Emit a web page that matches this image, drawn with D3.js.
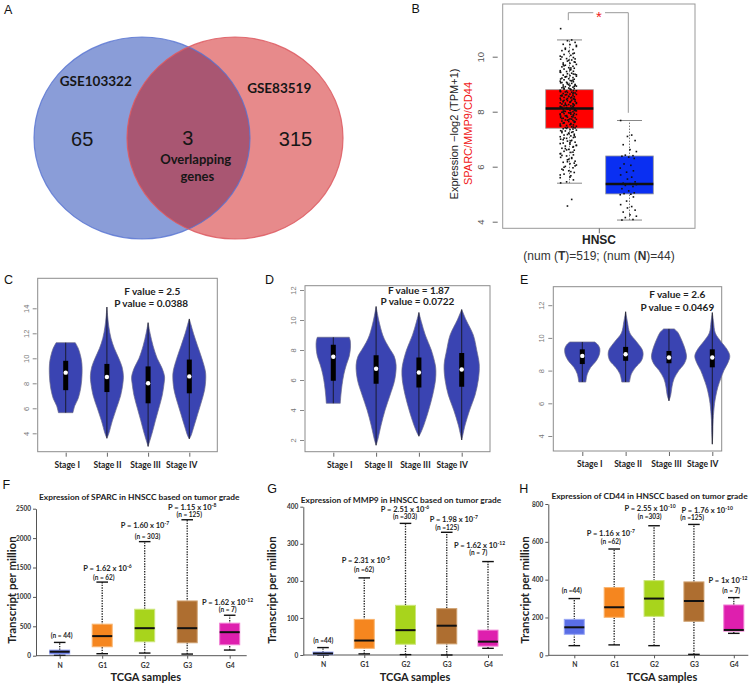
<!DOCTYPE html>
<html><head><meta charset="utf-8">
<script src="https://cdnjs.cloudflare.com/ajax/libs/d3/7.8.5/d3.min.js"></script>
<style>body{margin:0;background:#fff}svg{display:block}</style>
</head><body>
<svg id="c" width="755" height="687"></svg>
<script>
// ---------------- DATA ----------------
// A: Venn
const vennSets = ["GSE103322", "GSE83519"];
const vennCounts = [65, 3, 315];
const vennOverlapLabel = ["Overlapping", "genes"];

// B: HNSC boxplot (log2 TPM+1)
const bGroups = ["Tumor", "Normal"];
const bStats = [[5.4, 7.4, 8.12, 8.8, 10.61], [4.06, 5.01, 5.37, 6.39, 7.68]];
const bTicks = [4, 6, 8, 10];
const tumorExpr = [11.02,10.61,10.58,10.52,10.45,10.44,10.37,10.31,10.26,10.22,10.19,10.13,10.08,10.05,10.02,9.97,9.93,9.91,9.88,9.84,9.8,9.77,9.76,9.72,9.69,9.65,9.63,9.6,9.58,9.55,9.53,9.49,9.47,9.46,9.43,9.4,9.38,9.36,9.33,9.31,9.29,9.27,9.24,9.22,9.2,9.18,9.16,9.13,9.11,9.09,9.07,9.05,9.03,9.01,8.99,8.97,8.95,8.93,8.91,8.89,8.87,8.86,8.84,8.82,8.8,8.78,8.77,8.75,8.73,8.71,8.7,8.68,8.66,8.64,8.63,8.61,8.59,8.57,8.56,8.54,8.52,8.5,8.49,8.47,8.45,8.43,8.42,8.4,8.38,8.36,8.35,8.33,8.31,8.29,8.28,8.26,8.24,8.22,8.21,8.19,8.17,8.15,8.14,8.12,8.1,8.08,8.07,8.05,8.03,8.01,8.0,7.98,7.96,7.94,7.93,7.91,7.89,7.87,7.86,7.84,7.82,7.8,7.78,7.76,7.74,7.72,7.7,7.68,7.66,7.64,7.61,7.59,7.57,7.55,7.52,7.5,7.48,7.45,7.43,7.41,7.38,7.35,7.33,7.3,7.27,7.24,7.21,7.18,7.15,7.12,7.09,7.06,7.03,7.0,6.96,6.93,6.89,6.86,6.82,6.78,6.75,6.71,6.67,6.63,6.6,6.56,6.52,6.47,6.43,6.39,6.34,6.3,6.25,6.2,6.16,6.11,6.06,6.01,5.96,5.91,5.85,5.79,5.73,5.67,5.6,5.52,5.45,5.41,4.81,4.57,
  9.92,9.71,9.52,9.34,9.26,9.15,9.06,8.98,8.92,8.85,8.81,8.74,8.69,8.62,8.58,8.53,8.48,8.44,8.39,8.34,8.3,8.25,8.2,8.16,8.11,8.06,8.02,7.97,7.92,7.88,7.83,7.79,7.73,7.69,7.63,7.58,7.53,7.47,7.42,7.37,7.29,7.22,7.13,7.04,6.94,6.84,6.73,6.61,6.48,6.33,6.18,6.03,5.88,5.62,10.41,10.27,10.11,9.99,9.87,9.81,9.67,9.59,9.44,9.37,9.28,9.19,9.12,9.04,8.96,8.9,8.83,8.76,8.72,8.65,8.6,8.55,8.46,8.41,8.37,8.32,8.27,8.23,8.18,8.13,8.09,8.04,7.99,7.95,7.9,7.85,7.81,7.75,7.71,7.65,7.6,7.54,7.49,7.44,7.39,7.31,7.25,7.17,7.08,6.98,6.88,6.77,6.66,6.53,6.41,6.27,6.13,5.98,5.82,5.7];
const normalExpr = [7.68,7.15,7.1,6.95,6.8,6.62,6.55,6.42,6.4,6.38,6.35,6.3,6.1,6.05,5.95,5.85,5.8,5.7,5.62,5.55,5.45,5.4,5.38,5.35,5.32,5.28,5.2,5.12,5.05,5.02,5.0,4.98,4.9,4.75,4.62,4.55,4.5,4.42,4.35,4.25,4.2,4.15,4.08,4.06];
const jitterOffsets = [-0.9,0.4,-0.1,0.8,-0.6,0.2,0.95,-0.35,0.55,-0.75,0.05,0.7,-0.5,0.3,-0.95,0.6,-0.2];

// C, D, E: violins by stage
const stages = ["Stage I", "Stage II", "Stage III", "Stage IV"];
const cStats = [[5.65,7.45,8.85,9.8,11.25],[3.6,7.3,8.5,9.55,14.1],[2.95,6.4,8.0,9.35,12.85],[3.55,7.2,8.55,9.9,13.15]];
const cProfiles = [
  [[5.65,0.44],[6.2,0.55],[6.8,0.76],[7.7,0.92],[8.7,0.99],[9.6,0.98],[10.2,0.9],[10.8,0.76],[11.25,0.58]],
  [[3.6,0],[4.0,0.12],[5.0,0.33],[6.0,0.58],[7.0,0.83],[8.0,0.97],[8.6,1.0],[9.3,0.92],[10.0,0.72],[10.8,0.45],[11.6,0.25],[12.5,0.12],[13.3,0.05],[14.1,0]],
  [[2.95,0],[3.3,0.08],[4.0,0.24],[5.0,0.44],[6.0,0.65],[7.0,0.85],[8.0,0.97],[8.5,1.0],[9.2,0.85],[10.0,0.55],[11.0,0.3],[12.0,0.12],[12.85,0]],
  [[3.55,0],[3.8,0.1],[4.5,0.27],[5.5,0.5],[6.5,0.73],[7.5,0.93],[8.5,1.0],[9.0,0.97],[10.0,0.76],[11.0,0.5],[12.0,0.25],[12.7,0.1],[13.15,0]]
];
const cTicks = [4, 6, 8, 10, 12, 14];
const cTest = ["F value = 2.5", "P value = 0.0388"];

const dStats = [[4.45,5.95,7.55,8.35,8.85],[1.65,5.75,6.75,7.65,10.9],[2.25,5.5,6.5,7.5,10.5],[2.0,5.55,6.7,7.8,10.7]];
const dProfiles = [
  [[4.45,0.35],[5.0,0.38],[5.7,0.44],[6.4,0.53],[7.0,0.65],[7.6,0.8],[8.2,0.86],[8.6,0.85],[8.85,0.8]],
  [[1.65,0],[2.0,0.08],[3.0,0.25],[4.0,0.45],[5.0,0.7],[6.0,0.93],[7.0,1.0],[7.6,0.9],[8.0,0.72],[8.5,0.5],[9.0,0.33],[10.0,0.13],[10.9,0]],
  [[2.25,0],[2.5,0.1],[3.0,0.25],[4.0,0.49],[5.0,0.69],[6.0,0.83],[6.6,0.85],[7.0,0.82],[8.0,0.62],[9.0,0.32],[9.8,0.14],[10.5,0]],
  [[2.0,0],[2.3,0.05],[3.0,0.17],[4.0,0.4],[5.0,0.67],[6.0,0.83],[7.0,0.88],[8.0,0.75],[9.0,0.58],[10.0,0.22],[10.7,0]]
];
const dTicks = [2, 4, 6, 8, 10, 12];
const dTest = ["F value = 1.87", "P value = 0.0722"];

const eStats = [[7.3,8.4,8.9,9.3,9.75],[7.3,8.6,9.0,9.45,11.6],[6.15,8.45,8.8,9.2,10.55],[3.5,8.2,8.8,9.3,11.55]];
const eProfiles = [
  [[7.3,0.2],[7.8,0.29],[8.2,0.48],[8.6,0.8],[9.0,0.98],[9.35,1.0],[9.6,0.88],[9.75,0.71]],
  [[7.3,0.22],[7.8,0.33],[8.2,0.57],[8.6,0.9],[9.0,1.0],[9.3,0.94],[9.8,0.6],[10.3,0.24],[11.0,0.1],[11.6,0]],
  [[6.15,0],[6.5,0.1],[7.0,0.17],[7.5,0.29],[8.0,0.56],[8.4,0.86],[8.8,1.0],[9.1,0.97],[9.5,0.86],[10.0,0.67],[10.35,0.5],[10.55,0.3]],
  [[3.5,0],[4.2,0.03],[5.0,0.05],[6.0,0.13],[6.5,0.21],[7.0,0.32],[7.5,0.48],[8.0,0.66],[8.5,0.9],[8.9,1.0],[9.3,0.84],[9.8,0.48],[10.3,0.17],[11.0,0.07],[11.55,0]]
];
const eTicks = [4, 6, 8, 10, 12];
const eTest = ["F value = 2.6", "P value = 0.0469"];

// F, G, H: TCGA by tumour grade  [min, q1, median, q3, max]
const grades = ["N", "G1", "G2", "G3", "G4"];
const fStats = [[10,28,68,96,226],[34,152,333,536,1252],[45,237,468,790,1940],[28,220,468,931,2312],[96,186,400,553,688]];
const gStats = [[0,1,4,8,20],[3,18,39,96,208],[1,29,67,134,355],[0,30,79,125,331],[18,24,36,67,252]];
const hStats = [[51,111,148,190,300],[55,201,254,358,562],[51,206,300,395,685],[5,180,287,388,692],[116,128,134,266,305]];
const fTicks = [0, 500, 1000, 1500, 2000, 2500];
const gTicks = [0, 100, 200, 300, 400];
const hTicks = [0, 200, 400, 600, 800];
const fP = [null, ["1.62 x 10","-6"], ["1.60 x 10","-7"], ["1.15 x 10","-8"], ["1.62 x 10","-12"]];
const gP = [null, ["2.31 x 10","-5"], ["2.51 x 10","-6"], ["1.98 x 10","-7"], ["1.62 x 10","-12"]];
const hP = [null, ["1.16 x 10","-7"], ["2.55 x 10","-10"], ["1.76 x 10","-10"], ["1x 10","-12"]];
const fN = ["(n = 44)", "(n = 62)", "(n = 303)", "(n = 125)", "(n = 7)"];
const gN = ["(n =44)", "(n =62)", "(n =303)", "(n =125)", "(n = 7)"];
const hN = ["(n =44)", "(n =62)", "(n =303)", "(n =125)", "(n = 7)"];
const fTitle = "Expression of SPARC in HNSCC based on tumor grade";
const gTitle = "Expression of MMP9 in HNSCC based on tumor grade";
const hTitle = "Expression of CD44 in HNSCC based on tumor grade";

// ---------------- DRAWING ----------------
const FA = "'Liberation Sans', Arial, sans-serif";
const FL = "Lato, 'Open Sans', sans-serif";
const svg = d3.select("#c");
svg.append("rect").attr("width", 755).attr("height", 687).attr("fill", "#fff");

function txt(g, x, y, t, o) {
  o = o || {};
  return g.append("text").attr("x", x).attr("y", y).text(t)
    .attr("font-family", o.ff || FL).attr("font-size", o.fs || 10)
    .attr("font-weight", o.fw || "normal").attr("fill", o.fill || "#111")
    .attr("text-anchor", o.anchor || "middle");
}

// panel letters
[["A",4,13.5],["B",411.5,12.7],["C",4,284.3],["D",265,284],["E",520,284],["F",2.5,489.3],["G",267.3,492.7],["H",519.3,492.7]]
  .forEach(d => txt(svg, d[1], d[2], d[0], {ff: FA, fs: 12.5, anchor: "start"}));

// ----- A: Venn -----
(function () {
  const g = svg.append("g");
  const rx = 108, ry = 101, cy = 138, cxs = [142, 235];
  const defs = svg.append("defs");
  defs.append("clipPath").attr("id", "blueClip").append("ellipse")
    .attr("cx", cxs[0]).attr("cy", cy).attr("rx", rx).attr("ry", ry);
  g.append("ellipse").attr("cx", cxs[0]).attr("cy", cy).attr("rx", rx).attr("ry", ry).attr("fill", "#8a9dd8");
  g.append("ellipse").attr("cx", cxs[1]).attr("cy", cy).attr("rx", rx).attr("ry", ry).attr("fill", "#e78a8b");
  g.append("ellipse").attr("cx", cxs[1]).attr("cy", cy).attr("rx", rx).attr("ry", ry).attr("fill", "#a95672")
    .attr("clip-path", "url(#blueClip)");
  g.append("ellipse").attr("cx", cxs[0]).attr("cy", cy).attr("rx", rx).attr("ry", ry).attr("fill", "none")
    .attr("stroke", "#5673d2").attr("stroke-width", 1.2).attr("stroke-opacity", 0.8);
  g.append("ellipse").attr("cx", cxs[1]).attr("cy", cy).attr("rx", rx).attr("ry", ry).attr("fill", "none")
    .attr("stroke", "#dd5a62").attr("stroke-width", 1.2).attr("stroke-opacity", 0.85);
  txt(g, 95.8, 86.3, vennSets[0], {fs: 13.5, fw: "bold", fill: "#161616"});
  txt(g, 279.2, 92.7, vennSets[1], {fs: 13.5, fw: "bold", fill: "#161616"});
  txt(g, 82.2, 145.5, vennCounts[0], {ff: FA, fs: 20, fill: "#161616"});
  txt(g, 187.7, 144.5, vennCounts[1], {ff: FA, fs: 20, fill: "#161616"});
  txt(g, 295.5, 145.5, vennCounts[2], {ff: FA, fs: 20, fill: "#161616"});
  txt(g, 195.7, 164.2, vennOverlapLabel[0], {fs: 13, fw: "bold", fill: "#161616"});
  txt(g, 197.3, 180.5, vennOverlapLabel[1], {fs: 13, fw: "bold", fill: "#161616"});
})();

// ----- B: boxplot with jitter -----
(function () {
  const g = svg.append("g");
  const box = [502.7, 4, 695, 228.3];
  const y = d3.scaleLinear().domain([4, 10]).range([221.7, 56.7]);
  const x = d3.scalePoint().domain(bGroups).range([569.5, 629.5]);
  const jit = d3.scaleLinear().domain([-1, 1]).range([-8.5, 8.5]);
  g.append("rect").attr("x", box[0]).attr("y", box[1]).attr("width", box[2] - box[0]).attr("height", box[3] - box[1])
    .attr("fill", "none").attr("stroke", "#999").attr("stroke-width", 1);
  const ya = g.append("g").attr("transform", `translate(${box[0] - 5},0)`)
    .call(d3.axisLeft(y).tickValues(bTicks).tickSize(5).tickFormat(d3.format("d")));
  ya.select(".domain").remove();
  ya.selectAll("line").attr("stroke", "#666");
  ya.selectAll("text").attr("x", 0).attr("dy", 0).attr("text-anchor", "middle")
    .attr("transform", "translate(-14,0) rotate(-90)").attr("fill", "#555")
    .attr("font-family", FA).attr("font-size", 9.5);
  g.append("line").attr("x1", 599.3).attr("x2", 599.3).attr("y1", box[3]).attr("y2", box[3] + 5).attr("stroke", "#666");
  const fills = ["#ff0000", "#0a2ff2"];
  bStats.forEach((s, i) => {
    const cx = x(bGroups[i]);
    g.append("line").attr("x1", cx).attr("x2", cx).attr("y1", y(s[0])).attr("y2", y(s[4]))
      .attr("stroke", "#777").attr("stroke-dasharray", "1.5,1.5");
    [s[0], s[4]].forEach(v => g.append("line").attr("x1", cx - 12.5).attr("x2", cx + 12.5).attr("y1", y(v)).attr("y2", y(v))
      .attr("stroke", "#888").attr("stroke-width", 1));
    g.append("rect").attr("x", cx - 23.8).attr("y", y(s[3])).attr("width", 47.6).attr("height", y(s[1]) - y(s[3]))
      .attr("fill", fills[i]).attr("stroke", "#999").attr("stroke-width", 0.8);
    g.append("line").attr("x1", cx - 23.8).attr("x2", cx + 23.8).attr("y1", y(s[2])).attr("y2", y(s[2]))
      .attr("stroke", "#111").attr("stroke-width", 2.5);
  });
  [tumorExpr, normalExpr].forEach((arr, k) => {
    const cx = x(bGroups[k]) - 1.2;
    g.selectAll(null).data(arr).enter().append("rect")
      .attr("x", (d, i) => cx + jit(jitterOffsets[i % jitterOffsets.length]) - 0.8)
      .attr("y", d => y(d) - 0.8).attr("width", 1.6).attr("height", 1.6).attr("fill", "#111");
  });
  // significance bracket
  const xl = x(bGroups[0]) - 1.2, xr = x(bGroups[1]) - 1.2;
  g.append("path").attr("d", `M${xl},${y(11.33)}V${y(11.6)}H593.3`).attr("fill", "none").attr("stroke", "#999");
  g.append("path").attr("d", `M605,${y(11.6)}H${xr}V${y(7.96)}`).attr("fill", "none").attr("stroke", "#999");
  txt(g, 598.8, 22, "*", {ff: FA, fs: 15, fill: "#f02020"});
  // axis titles
  g.append("text").attr("transform", "translate(457.5,134) rotate(-90)")
    .attr("text-anchor", "middle").attr("font-family", FA).attr("font-size", 11).attr("fill", "#222")
    .text("Expression \u2212log2 (TPM+1)");
  g.append("text").attr("transform", "translate(472.3,133.5) rotate(-90)")
    .attr("text-anchor", "middle").attr("font-family", FA).attr("font-size", 11).attr("fill", "#f01818")
    .text("SPARC/MMP9/CD44");
  txt(g, 599, 243.5, "HNSC", {ff: FA, fs: 12, fw: "bold", fill: "#222"});
  const t2 = g.append("text").attr("x", 599).attr("y", 259.5).attr("text-anchor", "middle")
    .attr("font-family", FA).attr("font-size", 12).attr("fill", "#333");
  t2.append("tspan").text("(num (");
  t2.append("tspan").attr("font-weight", "bold").text("T");
  t2.append("tspan").text(")=519; (num (");
  t2.append("tspan").attr("font-weight", "bold").text("N");
  t2.append("tspan").text(")=44)");
})();

// ----- C/D/E violins -----
function violinPanel(cfg) {
  const g = svg.append("g");
  const [bx0, by0, bx1, by1] = cfg.box;
  const y = d3.scaleLinear().domain(cfg.yDom).range(cfg.yRange);
  const x = d3.scalePoint().domain(stages).range(cfg.xRange);
  const w = d3.scaleLinear().domain([0, 1]).range([0, cfg.halfMax]);
  g.append("rect").attr("x", bx0).attr("y", by0).attr("width", bx1 - bx0).attr("height", by1 - by0)
    .attr("fill", "none").attr("stroke", "#8c8c8c").attr("stroke-width", 1);
  const ya = g.append("g").attr("transform", `translate(${bx0 - 1},0)`)
    .call(d3.axisLeft(y).tickValues(cfg.ticks).tickSize(4).tickFormat(d3.format("d")));
  ya.select(".domain").remove();
  ya.selectAll("line").attr("stroke", "#888");
  ya.selectAll("text").attr("x", 0).attr("dy", 0).attr("text-anchor", "middle")
    .attr("transform", "translate(-8,0) rotate(-90)").attr("fill", "#777")
    .attr("font-family", FA).attr("font-size", 7.5);
  const xa = g.append("g").attr("transform", `translate(0,${by1 + 1})`)
    .call(d3.axisBottom(x).tickSize(4).tickPadding(5));
  xa.select(".domain").remove();
  xa.selectAll("line").attr("stroke", "#666");
  xa.selectAll("text").attr("dx", (d, i) => cfg.labelShift[i]).attr("font-family", FL).attr("font-weight", "bold")
    .attr("font-size", 8.5).attr("fill", "#222");
  const area = d3.area().curve(d3.curveCatmullRom.alpha(0.5)).y(d => y(d[0]));
  cfg.profiles.forEach((p, i) => {
    const cx = x(stages[i]);
    g.append("path").datum(p)
      .attr("d", area.x0(d => cx - w(d[1])).x1(d => cx + w(d[1])))
      .attr("fill", "#3a44b2").attr("stroke", "#6a6a8a").attr("stroke-width", 0.7);
    const s = cfg.stats[i];
    g.append("line").attr("x1", cx).attr("x2", cx).attr("y1", y(s[0])).attr("y2", y(s[4]))
      .attr("stroke", "#111").attr("stroke-width", 0.8);
    g.append("rect").attr("x", cx - 2.5).attr("y", y(s[3])).attr("width", 5).attr("height", y(s[1]) - y(s[3])).attr("fill", "#000");
    g.append("circle").attr("cx", cx).attr("cy", y(s[2])).attr("r", 2.2).attr("fill", "#fff");
  });
  txt(g, cfg.testPos[0], cfg.testPos[1], cfg.test[0], {fs: 10, fw: "bold", fill: "#222"});
  txt(g, cfg.testPos[2], cfg.testPos[3], cfg.test[1], {fs: 10, fw: "bold", fill: "#222"});
}
violinPanel({box: [37.7, 278.3, 217.3, 451.7], yDom: [4, 14], yRange: [433.3, 308.3], xRange: [65.7, 189.3],
  halfMax: 16.5, ticks: cTicks, stats: cStats, profiles: cProfiles, labelShift: [1, 0, -3, -8],
  test: cTest, testPos: [152.3, 294.5, 151.2, 307.2]});
violinPanel({box: [305, 285.7, 490, 451.7], yDom: [2, 12], yRange: [440, 290], xRange: [333.3, 461.7],
  halfMax: 20, ticks: dTicks, stats: dStats, profiles: dProfiles, labelShift: [6, 2, -4, -10],
  test: dTest, testPos: [418.8, 293.5, 417.5, 304.5]});
violinPanel({box: [553.3, 286.7, 721.7, 451], yDom: [4, 12], yRange: [436, 305.2], xRange: [582.3, 712.3],
  halfMax: 17.5, ticks: eTicks, stats: eStats, profiles: eProfiles, labelShift: [7, 2, -3, -10],
  test: eTest, testPos: [677.3, 297.8, 677.3, 311.2]});

// ----- F/G/H grade boxplots -----
const gradeFill = ["#5a6ee6", "#f5861f", "#a8d41c", "#ae6e30", "#de1fae"];
const gradeStroke = ["#9aa8f5", "#f9b46e", "#cde67c", "#cfa06e", "#f07ad2"];
function gradePanel(cfg) {
  const g = svg.append("g");
  const y = d3.scaleLinear().domain([0, cfg.ticks[cfg.ticks.length - 1]]).range(cfg.yRange);
  const x = d3.scalePoint().domain(grades).range(cfg.xRange);
  const ya = g.append("g").attr("transform", `translate(${cfg.ax},0)`)
    .call(d3.axisLeft(y).tickValues(cfg.ticks).tickSize(3).tickSizeOuter(0).tickPadding(2).tickFormat(d3.format("d")));
  ya.select(".domain").attr("stroke", "#555");
  ya.selectAll("line").attr("stroke", "#555");
  ya.selectAll("text").attr("font-family", FL).attr("font-weight", "bold").attr("font-size", 6.5).attr("fill", "#333");
  g.append("line").attr("x1", cfg.ax).attr("x2", cfg.axEnd).attr("y1", y(0)).attr("y2", y(0)).attr("stroke", "#555");
  const xa = g.append("g").attr("transform", `translate(0,${y(0)})`)
    .call(d3.axisBottom(x).tickSize(3).tickPadding(4));
  xa.select(".domain").remove();
  xa.selectAll("line").attr("stroke", "#555");
  xa.selectAll("text").attr("font-family", FL).attr("font-weight", "bold").attr("font-size", 6.8).attr("fill", "#333");
  cfg.stats.forEach((s, i) => {
    const cx = x(grades[i]);
    g.append("line").attr("x1", cx).attr("x2", cx).attr("y1", y(s[0])).attr("y2", y(s[4]))
      .attr("stroke", "#222").attr("stroke-width", 1.3).attr("stroke-dasharray", "1.4,1.2");
    [s[0], s[4]].forEach(v => g.append("line").attr("x1", cx - 5.8).attr("x2", cx + 5.8).attr("y1", y(v)).attr("y2", y(v))
      .attr("stroke", "#111").attr("stroke-width", 1.4));
    g.append("rect").attr("x", cx - 10).attr("y", y(s[3])).attr("width", 20).attr("height", Math.max(1, y(s[1]) - y(s[3])))
      .attr("fill", gradeFill[i]).attr("stroke", gradeStroke[i]).attr("stroke-width", 1);
    g.append("line").attr("x1", cx - 10).attr("x2", cx + 10).attr("y1", y(s[2])).attr("y2", y(s[2]))
      .attr("stroke", "#111").attr("stroke-width", 2);
    if (cfg.p[i]) {
      const t = g.append("text").attr("x", cfg.pPos[i][0]).attr("y", cfg.pPos[i][1]).attr("text-anchor", "middle")
        .attr("font-family", FL).attr("font-weight", "bold").attr("font-size", 7.5).attr("fill", "#222");
      t.append("tspan").text("P = " + cfg.p[i][0]);
      t.append("tspan").attr("dy", -3).attr("font-size", 5).text(cfg.p[i][1]);
    }
    txt(g, cfg.nPos[i][0], cfg.nPos[i][1], cfg.n[i], {fs: 6.5, fw: "bold", fill: "#222"});
  });
  txt(g, cfg.titlePos[0], cfg.titlePos[1], cfg.title, {fs: 8.4, fw: "bold", fill: "#222"});
  g.append("text").attr("transform", `translate(${cfg.ylx},590) rotate(-90)`).attr("text-anchor", "middle")
    .attr("font-family", FL).attr("font-weight", "bold").attr("font-size", 11.5).attr("fill", "#222")
    .text("Transcript per million");
  txt(g, cfg.xlx, 681, "TCGA samples", {fs: 11, fw: "bold", fill: "#222"});
}
gradePanel({ticks: fTicks, yRange: [655.7, 508.7], xRange: [59.7, 229.7], ax: 36, axEnd: 246.7, stats: fStats,
  p: fP, n: fN, title: fTitle, titlePos: [139.3, 500.3], ylx: 15.5, xlx: 145.8,
  pPos: [null, [107.5, 571.3], [145, 528], [192.2, 509.5], [227.5, 604.8]],
  nPos: [[61.7, 637.5], [103.8, 579.8], [147.5, 538.5], [189.2, 516.8], [227.7, 612.3]]});
gradePanel({ticks: gTicks, yRange: [655, 506.7], xRange: [323, 488], ax: 303.3, axEnd: 503, stats: gStats,
  p: gP, n: gN, title: gTitle, titlePos: [401, 502.5], ylx: 275.5, xlx: 415,
  pPos: [null, [365.8, 563], [405, 511.8], [453.8, 522.3], [479.5, 548]],
  nPos: [[323.3, 642.5], [364, 571.8], [405, 519.2], [447.2, 530.2], [478.3, 555.2]]});
gradePanel({ticks: hTicks, yRange: [655.3, 504], xRange: [574.3, 733.8], ax: 548.3, axEnd: 748.3, stats: hStats,
  p: hP, n: hN, title: hTitle, titlePos: [649.5, 498.5], ylx: 529, xlx: 662,
  pPos: [null, [610.8, 536.3], [650, 510.8], [707.2, 513], [728, 583]],
  nPos: [[571.7, 592.5], [610.8, 544.2], [649.7, 519], [692.2, 520.3], [731.2, 592.5]]});
</script>
</body></html>
